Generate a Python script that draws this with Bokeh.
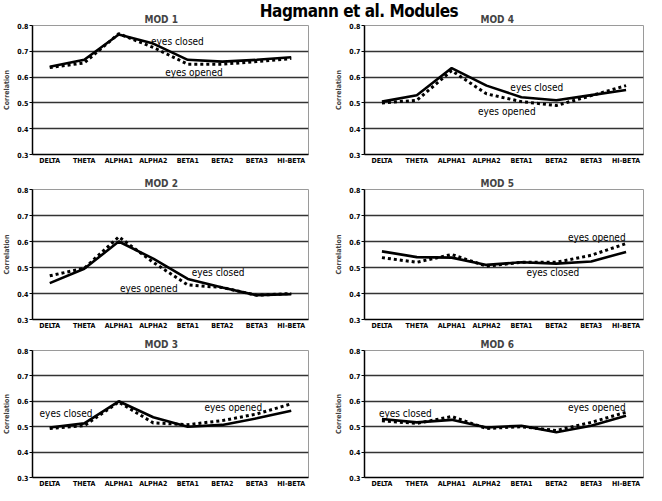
from bokeh.plotting import figure
from bokeh.layouts import column, row
from bokeh.models import Div, FixedTicker, ColumnDataSource
from bokeh.core.properties import value
from bokeh.embed import file_html
from bokeh.resources import INLINE

FONT = "'Liberation Sans Narrow', 'DejaVu Sans Condensed', 'Liberation Sans', sans-serif"

bands = ["DELTA", "THETA", "ALPHA1", "ALPHA2", "BETA1", "BETA2", "BETA3", "HI-BETA"]
y_ticks = [0.3, 0.4, 0.5, 0.6, 0.7, 0.8]
y_tick_labels = ["0.3", "0.4", "0.5", "0.6", "0.7", "0.8"]

mod1_closed = [0.640, 0.667, 0.765, 0.730, 0.667, 0.660, 0.667, 0.677]
mod1_opened = [0.637, 0.655, 0.768, 0.715, 0.650, 0.650, 0.660, 0.672]
mod2_closed = [0.440, 0.495, 0.600, 0.534, 0.456, 0.423, 0.393, 0.397]
mod2_opened = [0.468, 0.497, 0.618, 0.520, 0.433, 0.423, 0.393, 0.400]
mod3_closed = [0.497, 0.513, 0.600, 0.537, 0.500, 0.507, 0.533, 0.563]
mod3_opened = [0.493, 0.504, 0.597, 0.515, 0.508, 0.524, 0.550, 0.590]
mod4_closed = [0.505, 0.530, 0.635, 0.567, 0.522, 0.510, 0.530, 0.550]
mod4_opened = [0.500, 0.510, 0.625, 0.535, 0.505, 0.490, 0.528, 0.567]
mod5_closed = [0.562, 0.540, 0.538, 0.510, 0.520, 0.515, 0.523, 0.560]
mod5_opened = [0.538, 0.520, 0.550, 0.505, 0.520, 0.520, 0.547, 0.592]
mod6_closed = [0.530, 0.517, 0.527, 0.497, 0.504, 0.478, 0.504, 0.543]
mod6_opened = [0.523, 0.513, 0.540, 0.493, 0.500, 0.485, 0.517, 0.557]

# label anchors (x in category units, y in correlation)
mod1_labels = [(4.2, 0.738, "eyes closed"), (4.68, 0.616, "eyes opened")]
mod2_labels = [(5.38, 0.482, "eyes closed"), (3.37, 0.421, "eyes opened")]
mod3_labels = [(0.97, 0.553, "eyes closed"), (5.82, 0.575, "eyes opened")]
mod4_labels = [(4.94, 0.560, "eyes closed"), (4.08, 0.467, "eyes opened")]
mod5_labels = [(5.40, 0.482, "eyes closed"), (6.66, 0.617, "eyes opened")]
mod6_labels = [(1.17, 0.553, "eyes closed"), (6.66, 0.575, "eyes opened")]


def make_panel(name, closed, opened, labels, width, height, border_left,
               border_right, border_top, title_offset):
    p = figure(x_range=bands, y_range=(0.3, 0.8), width=width, height=height,
               output_backend="svg", toolbar_location=None, title=name,
               min_border_left=border_left, min_border_right=border_right,
               min_border_top=border_top, min_border_bottom=0)
    p.border_fill_color = None
    p.title.align = "left"
    p.title.offset = title_offset
    p.title.text_font = FONT
    p.title.text_font_size = "10px"
    p.title.text_font_style = "bold"
    p.title.standoff = 1
    p.outline_line_color = "#9a9a9a"
    p.outline_line_width = 1
    p.xgrid.grid_line_color = None
    p.ygrid.ticker = FixedTicker(ticks=y_ticks)
    p.ygrid.grid_line_color = "#333333"
    p.ygrid.grid_line_width = 1.5
    p.yaxis.ticker = FixedTicker(ticks=y_ticks)
    p.yaxis.major_label_overrides = {t: l for t, l in zip(y_ticks, y_tick_labels)}
    p.yaxis.axis_label = "Correlation"
    p.yaxis.axis_label_text_font = FONT
    p.yaxis.axis_label_text_font_size = "7px"
    p.yaxis.axis_label_text_font_style = "bold"
    p.yaxis.axis_label_standoff = 3
    p.yaxis.minor_tick_line_color = None
    p.yaxis.major_tick_out = 3
    p.yaxis.major_tick_in = 0
    p.yaxis.major_label_standoff = 1
    for ax in (p.xaxis, p.yaxis):
        ax.axis_line_color = "black"
        ax.axis_line_width = 1.5
        ax.major_label_text_font = FONT
        ax.major_label_text_font_size = "7px"
        ax.major_label_text_font_style = "bold"
        ax.major_label_text_color = "black"
    p.xaxis.major_tick_line_color = None
    p.xaxis.major_tick_out = 0
    p.xaxis.major_label_standoff = 2

    src = ColumnDataSource(dict(x=bands, closed=closed, opened=opened))
    p.line("x", "opened", source=src, line_color="black", line_width=3,
           line_dash="3 3")
    p.line("x", "closed", source=src, line_color="black", line_width=2.6)

    lsrc = ColumnDataSource(dict(x=[l[0] for l in labels], y=[l[1] for l in labels],
                                 t=[l[2] for l in labels]))
    p.text("x", "y", text="t", source=lsrc, text_font=value(FONT),
           text_font_size="10px", text_align="center", text_baseline="middle",
           text_color="black")
    return p

W = 323
H1, H2, H3 = 162, 165, 158
T1, T2, T3 = 20, 22, 18
p1 = make_panel("MOD 1", mod1_closed, mod1_opened, mod1_labels, W, H1, 21, 15, T1, 112)
p4 = make_panel("MOD 4", mod4_closed, mod4_opened, mod4_labels, W, H1, 41, 3, T1, 116)
p2 = make_panel("MOD 2", mod2_closed, mod2_opened, mod2_labels, W, H2, 21, 15, T2, 112)
p5 = make_panel("MOD 5", mod5_closed, mod5_opened, mod5_labels, W, H2, 41, 3, T2, 116)
p3 = make_panel("MOD 3", mod3_closed, mod3_opened, mod3_labels, W, H3, 21, 15, T3, 112)
p6 = make_panel("MOD 6", mod6_closed, mod6_opened, mod6_labels, W, H3, 41, 3, T3, 116)

title = Div(text="Hagmann et al. Modules", width=2 * W, height=14,
            styles={"font-family": FONT, "font-size": "17px", "font-weight": "900",
                    "letter-spacing": "-0.5px",
                    "text-align": "center", "line-height": "13px",
                    "padding-left": "62px", "box-sizing": "border-box",
                    "margin-bottom": "-14px",
                    "position": "relative", "z-index": "10"})

layout = column(title, row(p1, p4), row(p2, p5), row(p3, p6), spacing=0)

open("out.html", "w").write(file_html(layout, INLINE))
